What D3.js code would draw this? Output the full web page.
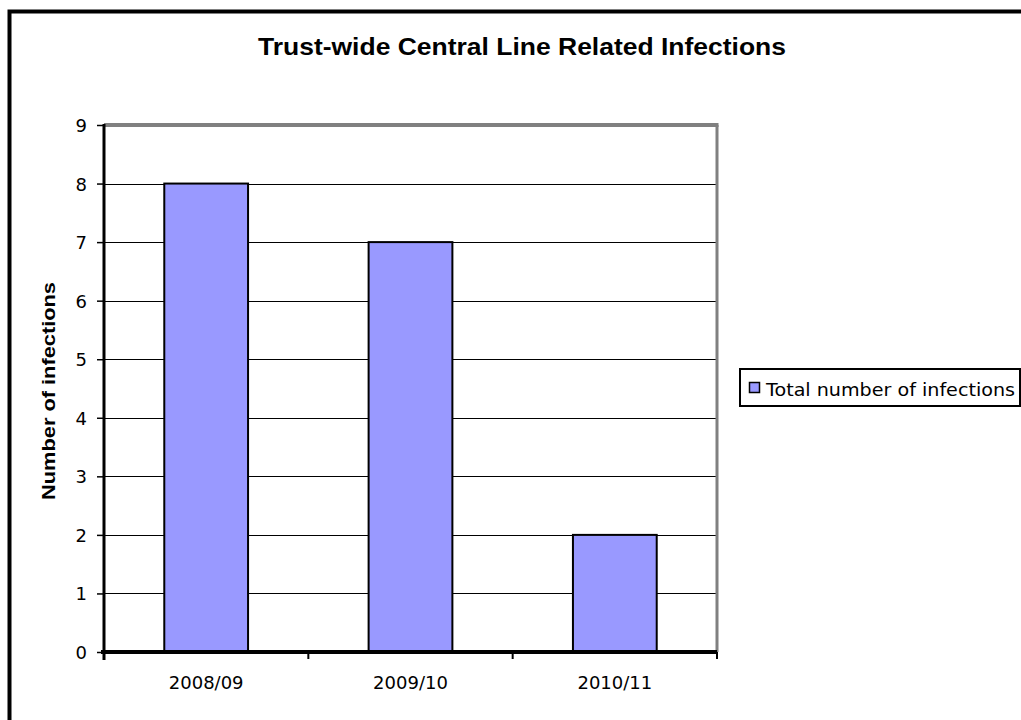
<!DOCTYPE html>
<html>
<head>
<meta charset="utf-8">
<script src="https://cdn.jsdelivr.net/npm/d3@7"></script>
<style>
  html, body { margin: 0; padding: 0; background: #fff; }
  svg { display: block; }
</style>
</head>
<body>
<script>
const categories = ["2008/09", "2009/10", "2010/11"];
const infections = [8, 7, 2];
const yTicks = [0, 1, 2, 3, 4, 5, 6, 7, 8, 9];
const seriesName = "Total number of infections";
const titleText = "Trust-wide Central Line Related Infections";
const yTitle = "Number of infections";

(function () {
const W = 1021, H = 720;
const svg = d3.select("body").append("svg").attr("width", W).attr("height", H);

// outer chart border (extends beyond right/bottom edges)
svg.append("rect").attr("x", 9.5).attr("y", 11.5).attr("width", 1100).attr("height", 800)
  .attr("fill", "#fff").attr("stroke", "#000").attr("stroke-width", 4);

const pL = 104, pR = 717, pT = 125, pB = 652;
const x = d3.scaleBand().domain(categories).range([pL, pR]).paddingInner(0.59).paddingOuter(0.295);
const xBand = d3.scaleBand().domain(categories).range([pL, pR]);
const y = d3.scaleLinear().domain([0, 9]).range([pB, pT]);

// gridlines
svg.append("g").selectAll("line").data(yTicks.filter(d => d > 0 && d < 9)).join("line")
  .attr("x1", pL).attr("x2", pR).attr("y1", d => Math.round(y(d)) + 0.5).attr("y2", d => Math.round(y(d)) + 0.5)
  .attr("stroke", "#000").attr("stroke-width", 1);

// plot top & right border (gray)
svg.append("line").attr("x1", pL).attr("x2", pR + 1.5).attr("y1", pT).attr("y2", pT)
  .attr("stroke", "#808080").attr("stroke-width", 4);
svg.append("line").attr("x1", pR).attr("x2", pR).attr("y1", pT).attr("y2", pB)
  .attr("stroke", "#808080").attr("stroke-width", 3);

// bars
svg.append("g").selectAll("rect").data(infections).join("rect")
  .attr("x", (d, i) => x(categories[i]))
  .attr("y", d => y(d))
  .attr("width", x.bandwidth())
  .attr("height", d => pB - y(d))
  .attr("fill", "#9999FF").attr("stroke", "#000").attr("stroke-width", 2);

// y axis
const yAxis = d3.axisLeft(y).tickValues(yTicks).tickSize(7).tickPadding(10).tickFormat(d3.format("d"));
const gy = svg.append("g").attr("transform", `translate(${pL},0)`).call(yAxis);
gy.select(".domain").remove();
gy.selectAll(".tick line").attr("stroke", "#000").attr("stroke-width", 1.5);
gy.selectAll(".tick text").attr("font-family", "DejaVu Sans, sans-serif").attr("font-size", 18)
  .attr("fill", "#000").attr("dy", "0.36em");
svg.append("line").attr("x1", pL).attr("x2", pL).attr("y1", pT - 1).attr("y2", pB + 8)
  .attr("stroke", "#000").attr("stroke-width", 3);

// x axis
const xAxis = d3.axisBottom(xBand).tickSize(0).tickPadding(24);
const gx = svg.append("g").attr("transform", `translate(0,${pB})`).call(xAxis);
gx.select(".domain").remove();
gx.selectAll(".tick text").attr("font-family", "DejaVu Sans, sans-serif").attr("font-size", 18).attr("fill", "#000");
// x tick marks at band boundaries
const boundaries = categories.map(c => xBand(c)).concat([pR]);
svg.append("g").selectAll("line").data(boundaries).join("line")
  .attr("x1", d => d).attr("x2", d => d).attr("y1", pB).attr("y2", pB + 7)
  .attr("stroke", "#000").attr("stroke-width", 2);
svg.append("line").attr("x1", pL - 3).attr("x2", pR).attr("y1", pB).attr("y2", pB)
  .attr("stroke", "#000").attr("stroke-width", 4);

// title
svg.append("text").attr("x", 522).attr("y", 55).attr("text-anchor", "middle")
  .attr("font-family", "Liberation Sans, Arial, sans-serif").attr("font-weight", "bold")
  .attr("font-size", 24).attr("textLength", 528).attr("lengthAdjust", "spacingAndGlyphs")
  .attr("fill", "#000").text(titleText);

// y title
svg.append("text").attr("transform", "translate(55,391) rotate(-90)").attr("text-anchor", "middle")
  .attr("font-family", "Liberation Sans, Arial, sans-serif").attr("font-weight", "bold")
  .attr("font-size", 18).attr("textLength", 218).attr("lengthAdjust", "spacingAndGlyphs")
  .attr("fill", "#000").text(yTitle);

// legend
const lg = svg.append("g");
lg.append("rect").attr("x", 740).attr("y", 369).attr("width", 280).attr("height", 37)
  .attr("fill", "#fff").attr("stroke", "#000").attr("stroke-width", 2);
lg.append("rect").attr("x", 749.5).attr("y", 382.5).attr("width", 10).attr("height", 10)
  .attr("fill", "#9999FF").attr("stroke", "#000").attr("stroke-width", 1.5);
lg.append("text").attr("x", 766).attr("y", 396)
  .attr("font-family", "DejaVu Sans, sans-serif").attr("font-size", 18)
  .attr("textLength", 249).attr("lengthAdjust", "spacingAndGlyphs")
  .attr("fill", "#000").text(seriesName);
})();
</script>
</body>
</html>
